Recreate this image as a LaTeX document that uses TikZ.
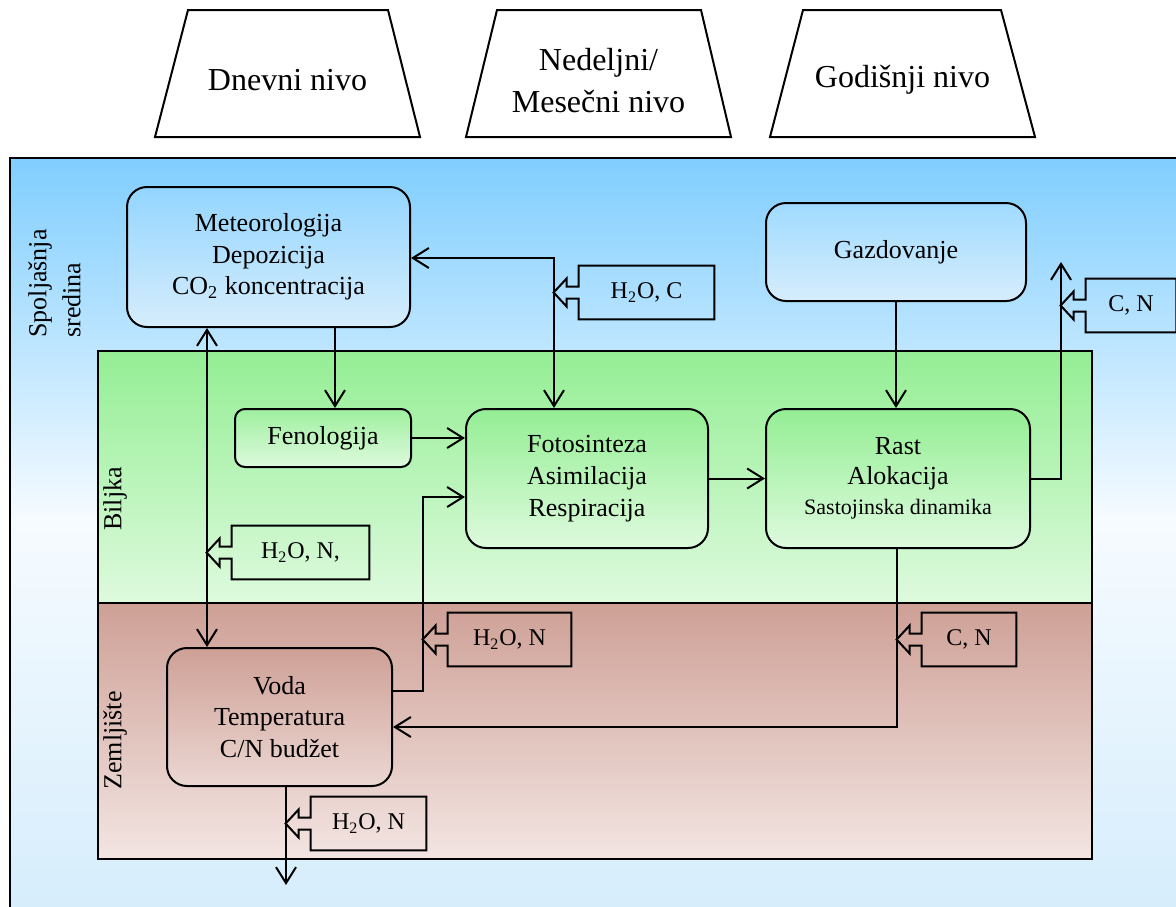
\documentclass[tikz,border=0pt]{standalone}
\usepackage{fontspec}
\setmainfont{Liberation Serif}
\usetikzlibrary{arrows.meta,calc}

\definecolor{skytop}{RGB}{128,206,255}
\definecolor{skymid}{RGB}{246,251,255}
\definecolor{skybot}{RGB}{214,237,252}
\definecolor{planttop}{RGB}{148,238,148}
\definecolor{plantbot}{RGB}{222,250,222}
\definecolor{soiltop}{RGB}{206,160,150}
\definecolor{soilbot}{RGB}{243,229,226}

\tikzset{
  flowline/.style={line width=1pt},
  flow/.style={flowline,-{Straight Barb[length=8pt,width=10pt]}},
  bothways/.style={flowline,{Straight Barb[length=8pt,width=10pt]}-{Straight Barb[length=8pt,width=10pt]}},
  procbox/.style={draw,line width=1pt,rounded corners=10pt,align=center,inner sep=0pt,
    font=\fontsize{13}{15.75}\selectfont},
  fluxbox/.style={inner sep=0pt,minimum height=26.5pt,font=\fontsize{12}{14}\selectfont},
  leveltext/.style={align=center,font=\fontsize{16}{21}\selectfont},
  sidelabel/.style={rotate=90,anchor=north west,align=left,inner sep=0pt,
    font=\fontsize{13}{17}\selectfont}
}

% outline of a flux box with its arrow pointing left
\newcommand{\fluxoutline}[1]{%
  \draw[flowline] (#1.north west) -- (#1.north east) -- (#1.south east) -- (#1.south west)
    -- ($(#1.west)+(0,6)$) -- ++(-12,0) -- ++(0,8) -- ($(#1.west)+(-25,0)$)
    -- ($(#1.west)+(-12,-14)$) -- ++(0,8) -- ($(#1.west)+(0,-6)$) -- cycle;}

\begin{document}
\begin{tikzpicture}[x=0.5pt,y=-0.5pt]
    \useasboundingbox (0,0) rectangle (1176,906);

    % Environment background
    \shade[top color=skytop,bottom color=skymid] (10,158) rectangle (1180,520);
    \shade[top color=skymid,bottom color=skybot] (10,519) rectangle (1180,910);
    \draw[line width=1pt] (1180,158) -- (10,158) -- (10,910);

    % Plant and soil bands
    \draw[line width=1pt,top color=planttop,bottom color=plantbot] (98,351) rectangle (1092,603);
    \draw[line width=1pt,top color=soiltop,bottom color=soilbot] (98,603) rectangle (1092,859);

    % Time levels
    \draw[line width=1pt,fill=white] (155,137) -- (188,10) -- (388,10) -- (420,137) -- cycle;
    \node[leveltext] (dnevni) at (287.5,80) {Dnevni nivo};
    \draw[line width=1pt,fill=white] (466,137) -- (497,10) -- (701,10) -- (731,137) -- cycle;
    \node[leveltext] (mesecni) at (598.5,81) {Nedeljni/\\Mesečni nivo};
    \draw[line width=1pt,fill=white] (770,137) -- (803,10) -- (1001,10) -- (1035,137) -- cycle;
    \node[leveltext] (godisnji) at (902.5,80) {Godišnji nivo};

    % Side labels
    \node[sidelabel] (lblEnv) at (28,338) {Spoljašnja\\sredina};
    \node[sidelabel] (lblPlant) at (103,531) {Biljka};
    \node[sidelabel] (lblSoil) at (103,790) {Zemljište};

    % Processes
    \node[procbox,minimum width=141.5pt,minimum height=70pt,
          top color=skytop!85!white,bottom color=skybot] (meteo) at (268.5,257)
          {Meteorologija\\Depozicija\\CO\textsubscript{2} koncentracija};
    \node[procbox,minimum width=130pt,minimum height=49pt,
          top color=skytop!75!white,bottom color=skybot] (gazd) at (896,252) {Gazdovanje};
    \node[procbox,rounded corners=5pt,minimum width=88pt,minimum height=29pt,
          top color=planttop!90!white,bottom color=plantbot] (feno) at (323,438) {Fenologija};
    \node[procbox,font=\fontsize{13}{16}\selectfont,minimum width=121pt,minimum height=69.5pt,
          top color=planttop,bottom color=plantbot] (foto) at (587,478.5)
          {Fotosinteza\\Asimilacija\\Respiracija};
    \node[procbox,font=\fontsize{13}{15}\selectfont,minimum width=132pt,minimum height=69.5pt,
          top color=planttop,bottom color=plantbot] (rast) at (898,478.5)
          {Rast\\Alokacija\\{\fontsize{11}{13.5}\selectfont Sastojinska dinamika}};
    \node[procbox,minimum width=112.5pt,minimum height=69pt,
          top color=soiltop,bottom color=soilbot!80!soiltop] (voda) at (279.5,717)
          {Voda\\Temperatura\\C/N budžet};

    % Bend points
    \coordinate (xFeno) at (335,0);
    \coordinate (xDepo) at (207,0);
    \coordinate (exchBend) at (554,258);
    \coordinate (uptakeBase) at (423,691);
    \coordinate (uptakeTop) at (423,497);
    \coordinate (litterBend) at (897,727);
    \coordinate (outTop) at (1061,262);
    \coordinate (leachEnd) at (286,885);

    % Connectors
    \draw[flow] (xFeno |- meteo.south) -- (xFeno |- feno.north);
    \draw[flow] (feno.east) -- (feno.east -| foto.west);
    \draw[flow] (foto.east) -- (rast.west);
    \draw[flow] (gazd.south) -- (gazd.south |- rast.north);
    \draw[bothways] (exchBend |- foto.north) -- (exchBend) -- (exchBend -| meteo.east);
    \draw[bothways] (xDepo |- meteo.south) -- (xDepo |- voda.north);
    \draw[flow] (uptakeBase -| voda.east) -- (uptakeBase) -- (uptakeTop) -- (uptakeTop -| foto.west);
    \draw[flow] (litterBend |- rast.south) -- (litterBend) -- (litterBend -| voda.east);
    \draw[flow] (rast.east) -- (rast.east -| outTop) -- (outTop);
    \draw[flow] (leachEnd |- voda.south) -- (leachEnd);

    % Fluxes
    \node[fluxbox,minimum width=67.5pt] (fluxMeteo) at (646.5,292.5) {H\textsubscript{2}O, C};
    \node[fluxbox,minimum width=45pt] (fluxOut) at (1131,305.5) {C, N};
    \node[fluxbox,minimum width=68.5pt] (fluxPlant) at (300.5,552.5) {H\textsubscript{2}O, N,};
    \node[fluxbox,minimum width=61.5pt] (fluxUptake) at (509.5,639.5) {H\textsubscript{2}O, N};
    \node[fluxbox,minimum width=47pt] (fluxLitter) at (969,639.5) {C, N};
    \node[fluxbox,minimum width=57.5pt] (fluxLeach) at (368.5,823.5) {H\textsubscript{2}O, N};
    \foreach \f in {fluxMeteo,fluxOut,fluxPlant,fluxUptake,fluxLitter,fluxLeach}
        {\fluxoutline{\f}}
\end{tikzpicture}
\end{document}
